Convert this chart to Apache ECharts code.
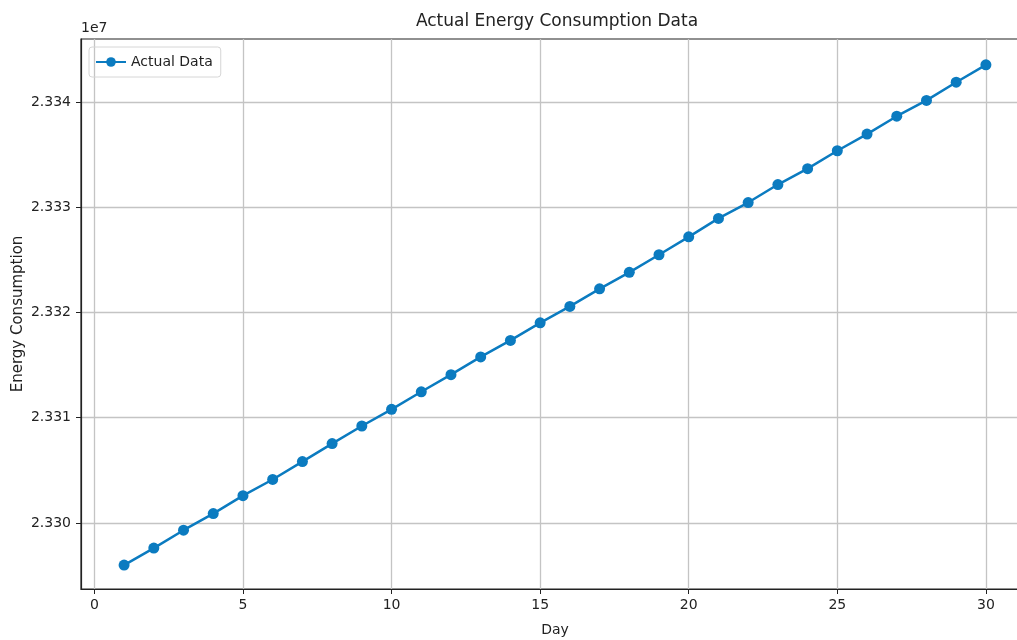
<!DOCTYPE html>
<html>
<head>
<meta charset="utf-8">
<script src="https://cdn.jsdelivr.net/npm/echarts@6/dist/echarts.min.js"></script>
<style>
  html, body { margin: 0; padding: 0; background: #fff; }
  #chart { width: 1017px; height: 640px; }
</style>
</head>
<body>
<div id="chart"></div>
<script>
// day numbers and the energy values
const days = [1, 2, 3, 4, 5, 6, 7, 8, 9, 10, 11, 12, 13, 14, 15,
  16, 17, 18, 19, 20, 21, 22, 23, 24, 25, 26, 27, 28, 29, 30]
const energy = [
  23296000, 23297610, 23299310, 23300890, 23302590, 23304130, 23305830, 23307540,
  23309210, 23310790, 23312460, 23314090, 23315770, 23317340, 23319010, 23320570,
  23322240, 23323810, 23325480, 23327180, 23328930, 23330440, 23332150, 23333660,
  23335360, 23336940, 23338640, 23340140, 23341870, 23343520,
]
const xTicks = [0, 5, 10, 15, 20, 25, 30]
const yTicks = [23300000, 23310000, 23320000, 23330000, 23340000]

const font = 'DejaVu Sans, sans-serif'
const chart = echarts.init(document.getElementById('chart'), null, { renderer: 'canvas' })

chart.setOption({
  animation: false,
  textStyle: { fontFamily: font, color: '#222' },
  title: [
    {
      text: 'Actual Energy Consumption Data',
      left: 552, top: 8, textAlign: 'center',
      textStyle: { fontFamily: font, fontSize: 17, fontWeight: 'normal', color: '#222' },
    },
    {
      text: '1e7',
      left: 76, top: 16,
      textStyle: { fontFamily: font, fontSize: 14, fontWeight: 'normal', color: '#222' },
    },
  ],
  legend: {
    left: 89, top: 47,
    padding: [8, 8, 8, 6],
    itemWidth: 30, itemHeight: 12, itemGap: 8,
    borderColor: '#d6d6d6', borderWidth: 1, borderRadius: 3,
    textStyle: { fontFamily: font, fontSize: 14, color: '#222' },
    data: ['Actual Data'],
  },
  grid: {
    left: 81, top: 39, bottom: 51, right: -12,
    outerBoundsMode: 'none',
    show: true, borderColor: '#222', borderWidth: 1.2,
  },
  xAxis: {
    type: 'value',
    min: -0.45, max: 31.45,
    name: 'Day', nameLocation: 'middle', nameGap: 34,
    nameTextStyle: { fontFamily: font, fontSize: 14, color: '#222' },
    axisLine: { show: true, onZero: false, lineStyle: { color: '#222', width: 1.2 } },
    axisTick: { show: true, length: 5, lineStyle: { color: '#222' }, customValues: xTicks },
    axisLabel: { fontSize: 14, color: '#222', margin: 9, customValues: xTicks },
    splitLine: { show: true, lineStyle: { color: '#c4c4c4', width: 1.3 } },
  },
  yAxis: {
    type: 'value',
    min: 23293725, max: 23345975,
    scale: true,
    name: 'Energy Consumption', nameLocation: 'middle', nameGap: 55, nameRotate: 90,
    nameMoveOverlap: false,
    nameTextStyle: { fontFamily: font, fontSize: 15, color: '#222' },
    axisLine: { show: true, onZero: false, lineStyle: { color: '#222', width: 1.2 } },
    axisTick: { show: true, length: 5, lineStyle: { color: '#222' }, customValues: yTicks },
    axisLabel: {
      fontSize: 14, color: '#222', margin: 10, customValues: yTicks,
      formatter: v => (v / 1e7).toFixed(3),
    },
    splitLine: { show: true, lineStyle: { color: '#c4c4c4', width: 1.3 } },
  },
  series: [
    {
      name: 'Actual Data',
      type: 'line',
      data: days.map((d, i) => [d, energy[i]]),
      symbol: 'circle',
      symbolSize: 11,
      lineStyle: { color: '#0b7bc0', width: 2.5 },
      itemStyle: { color: '#0b7bc0' },
    },
  ],
})
</script>
</body>
</html>
